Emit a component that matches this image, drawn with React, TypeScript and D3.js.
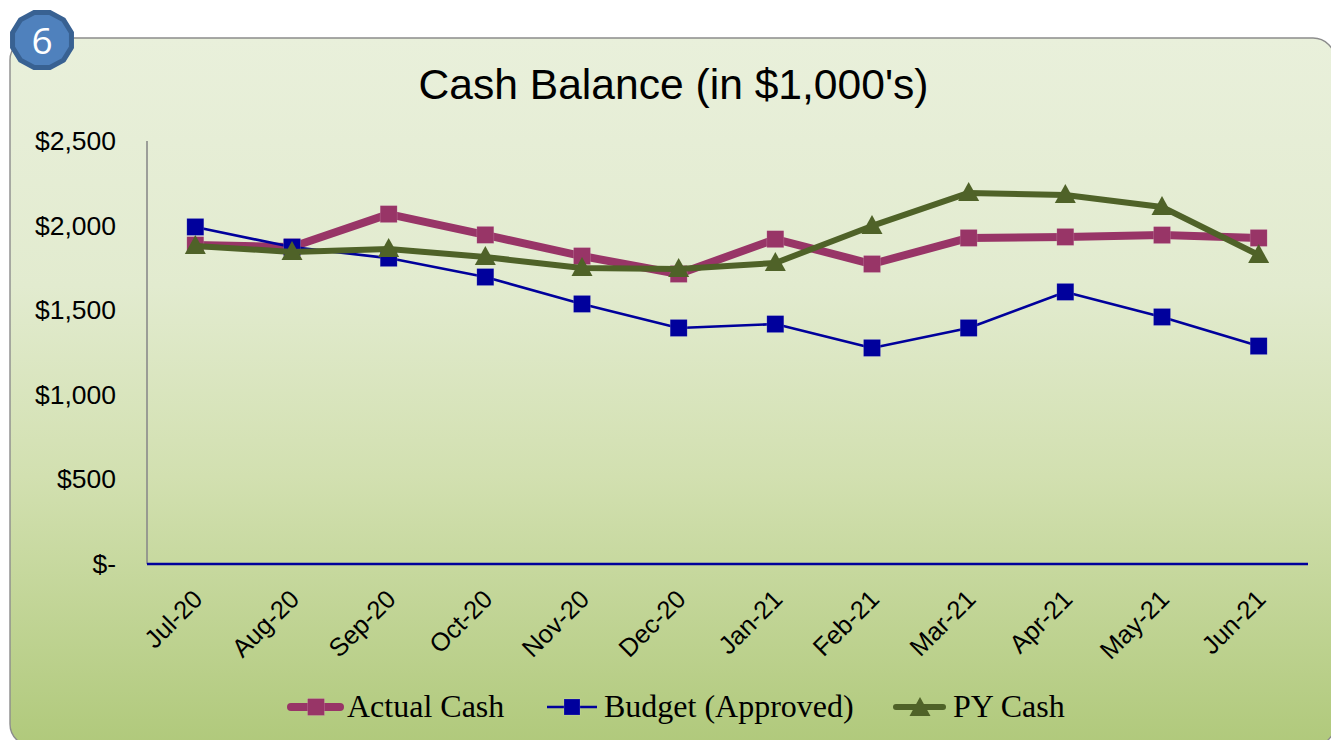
import React from "react";
import * as d3 from "d3";

const months = ["Jul-20","Aug-20","Sep-20","Oct-20","Nov-20","Dec-20","Jan-21","Feb-21","Mar-21","Apr-21","May-21","Jun-21"];
const actualCash = [1885,1873,2068,1945,1820,1714,1920,1773,1927,1933,1944,1927];
const budgetApproved = [1992,1873,1808,1696,1537,1395,1418,1277,1395,1608,1460,1288];
const pyCash = [1880,1844,1862,1814,1749,1743,1779,1998,2193,2181,2110,1826];
const yTicks = [0,500,1000,1500,2000,2500];

const W = 1331, H = 740;
const x = d3.scaleBand<string>().domain(months).range([147, 1307]);
const y = d3.scaleLinear().domain([0, 2500]).range([564, 141]);
const cx = (m: string) => (x(m) as number) + x.bandwidth() / 2;
const fmt = (v: number) => (v === 0 ? "$-" : "$" + d3.format(",")(v));
const line = (vals: number[]) =>
  d3.line<number>().x((_, i) => cx(months[i])).y((v) => y(v))(vals) as string;

const C_ACT = "#983567", C_BUD = "#00009c", C_PY = "#4f6228";

function Square({ px, py, s, fill }: { px: number; py: number; s: number; fill: string }) {
  return <rect x={px - s / 2} y={py - s / 2} width={s} height={s} fill={fill} stroke="#ffffff" strokeOpacity={0.25} strokeWidth={0.6} />;
}
function Tri({ px, py, fill }: { px: number; py: number; fill: string }) {
  return <path d={`M${px},${py - 11}L${px + 10.5},${py + 8}L${px - 10.5},${py + 8}Z`} fill={fill} />;
}

const badge = d3.range(12).map((i) => {
  const a = ((i + 0.5) * Math.PI * 2) / 12;
  return [42 + 30.5 * Math.cos(a), 40 + 28.5 * Math.sin(a)].join(",");
}).join(" ");

export default function App() {
  return (
    <svg width={W} height={H} viewBox={`0 0 ${W} ${H}`} style={{ position: "fixed", left: 0, top: 0, display: "block", background: "#fff" }}>
      <defs>
        <linearGradient id="bg" x1="0" y1="0" x2="0" y2="1">
          <stop offset="0" stopColor="#e9f0db" />
          <stop offset="0.35" stopColor="#e2ebcf" />
          <stop offset="0.62" stopColor="#d2e0b0" />
          <stop offset="1" stopColor="#b0c97b" />
        </linearGradient>
      </defs>
      <rect x={10} y={38} width={1325} height={708} rx={22} ry={22} fill="url(#bg)" stroke="#8c8c8c" strokeWidth={1.4} />

      <polygon points={badge} fill="#4f81bd" stroke="#386192" strokeWidth={5} />
      <text x={42} y={54} textAnchor="middle" fontFamily="'Open Sans', sans-serif" fontSize={37} fill="#ffffff">6</text>

      <text x={673.5} y={99} textAnchor="middle" fontFamily="'Liberation Sans', Arial, sans-serif" fontSize={42.6} fill="#000">Cash Balance (in $1,000's)</text>

      <line x1={147} x2={147} y1={141} y2={564} stroke="#8a8a8a" strokeWidth={1.6} />
      {yTicks.map((t) => (
        <text key={t} x={116} y={y(t) + 9} textAnchor="end" fontFamily="'Liberation Sans', Arial, sans-serif" fontSize={26.5} fill="#000">{fmt(t)}</text>
      ))}
      {months.map((m) => (
        <text key={m} transform={`translate(${cx(m) + 2},${594}) rotate(-45)`} textAnchor="end" dominantBaseline="hanging" dy="-0.35em" fontFamily="'Liberation Sans', Arial, sans-serif" fontSize={25.5} fill="#000">{m}</text>
      ))}

      <path d={line(actualCash)} fill="none" stroke={C_ACT} strokeWidth={8} strokeLinejoin="round" strokeLinecap="round" />
      {actualCash.map((v, i) => <Square key={i} px={cx(months[i])} py={y(v)} s={17} fill={C_ACT} />)}

      <path d={line(budgetApproved)} fill="none" stroke={C_BUD} strokeWidth={2.6} strokeLinejoin="round" />
      {budgetApproved.map((v, i) => <Square key={i} px={cx(months[i])} py={y(v)} s={17} fill={C_BUD} />)}

      <path d={line(pyCash)} fill="none" stroke={C_PY} strokeWidth={6} strokeLinejoin="round" strokeLinecap="round" />
      {pyCash.map((v, i) => <Tri key={i} px={cx(months[i])} py={y(v)} fill={C_PY} />)}

      <line x1={147} x2={1308} y1={564} y2={564} stroke={C_BUD} strokeWidth={2.6} />

      <line x1={291} x2={340} y1={707} y2={707} stroke={C_ACT} strokeWidth={8} strokeLinecap="round" />
      <Square px={316} py={707} s={17} fill={C_ACT} />
      <text x={347} y={717} fontFamily="'Liberation Serif', 'Times New Roman', serif" fontSize={32} fill="#000">Actual Cash</text>

      <line x1={547} x2={597} y1={707} y2={707} stroke={C_BUD} strokeWidth={2.6} />
      <Square px={572} py={707} s={16} fill={C_BUD} />
      <text x={604} y={717} fontFamily="'Liberation Serif', 'Times New Roman', serif" fontSize={32} fill="#000">Budget (Approved)</text>

      <line x1={896} x2={943} y1={707} y2={707} stroke={C_PY} strokeWidth={6} strokeLinecap="round" />
      <Tri px={920} py={708} fill={C_PY} />
      <text x={953} y={717} fontFamily="'Liberation Serif', 'Times New Roman', serif" fontSize={32} fill="#000">PY Cash</text>
    </svg>
  );
}
